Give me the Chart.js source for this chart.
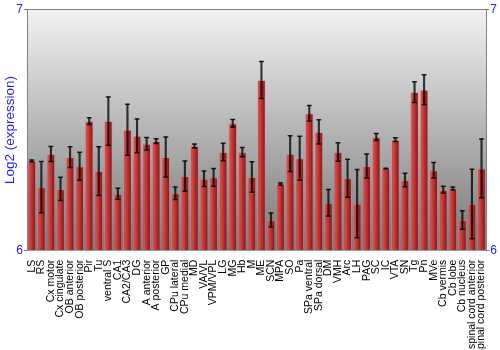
<!DOCTYPE html>
<html>
<head>
<meta charset="utf-8">
<script src="https://cdn.jsdelivr.net/npm/chart.js@4.4.1/dist/chart.umd.min.js"></script>
<style>
  body { margin: 0; background: #fff; }
  canvas { display: block; }
</style>
</head>
<body>
<canvas id="grafico" width="500" height="350"></canvas>
<script>
// regiones (eje x)
const regiones = ['LS', 'RS', 'Cx motor', 'Cx cingulate', 'OB anterior', 'OB posterior', 'Pir', 'Tu',
  'ventral S', 'CA1', 'CA2/CA3', 'DG', 'A anterior', 'A posterior', 'GP', 'CPu lateral', 'CPu medial',
  'MD', 'VA/VL', 'VPM/VPL', 'LG', 'MG', 'Hb', 'M', 'ME', 'SCN', 'MPA', 'SO', 'Pa', 'SPa ventral',
  'SPa dorsal', 'DM', 'VMH', 'Arc', 'LH', 'PAG', 'SC', 'IC', 'VTA', 'SN', 'Tg', 'Pn', 'MVe',
  'Cb vermis', 'Cb lobe', 'Cb nucleus', 'spinal cord anterior', 'spinal cord posterior'];

// log2 de la expresión media
const expresion = [6.372, 6.263, 6.401, 6.256, 6.388, 6.350, 6.537, 6.330, 6.537, 6.236, 6.501, 6.476,
  6.443, 6.454, 6.388, 6.238, 6.309, 6.434, 6.298, 6.304, 6.409, 6.528, 6.408, 6.305,
  6.707, 6.127, 6.276, 6.402, 6.383, 6.569, 6.492, 6.199, 6.409, 6.300, 6.195, 6.351,
  6.471, 6.340, 6.460, 6.293, 6.657, 6.667, 6.333, 6.253, 6.258, 6.127, 6.193, 6.341];

// error (+/-)
const errores = [0.004, 0.106, 0.031, 0.048, 0.043, 0.058, 0.014, 0.101, 0.100, 0.023, 0.106, 0.070,
  0.026, 0.010, 0.083, 0.026, 0.063, 0.008, 0.032, 0.037, 0.036, 0.016, 0.019, 0.063,
  0.077, 0.029, 0.004, 0.074, 0.091, 0.032, 0.050, 0.055, 0.038, 0.079, 0.141, 0.050,
  0.015, 0.002, 0.008, 0.028, 0.043, 0.062, 0.032, 0.014, 0.006, 0.038, 0.144, 0.122];

const ticksY = [6, 7];

const AZUL = '#1a1aff';
const GRIS = '#808080';
const ANCHO_BARRA = 0.91;

const errorBajo = expresion.map((v, i) => v - errores[i]);
const errorAlto = expresion.map((v, i) => v + errores[i]);

// gradiente horizontal para cada barra
function colorBarra(c) {
  const chart = c.chart;
  const xs = chart.scales.x;
  if (c.type !== 'data' || !xs || !xs.width) return '#b52c2c';
  const cx = xs.getPixelForValue(c.dataIndex);
  const mitad = xs.width / regiones.length * ANCHO_BARRA / 2;
  const g = chart.ctx.createLinearGradient(cx - mitad, 0, cx + mitad, 0);
  g.addColorStop(0, '#b23434');
  g.addColorStop(0.2, '#d24e4e');
  g.addColorStop(0.55, '#b82e2e');
  g.addColorStop(1, '#7a1212');
  return g;
}

// fondo gris degradado del área del gráfico
const fondo = {
  id: 'fondo',
  beforeDraw(chart) {
    const { ctx, chartArea: a } = chart;
    const g = ctx.createLinearGradient(0, a.top, 0, a.bottom);
    g.addColorStop(0, '#f2f2f2');
    g.addColorStop(1, '#777777');
    ctx.save();
    ctx.fillStyle = g;
    ctx.fillRect(a.left, a.top, a.right - a.left, a.bottom - a.top);
    ctx.restore();
  }
};

const fuente = { family: "'Liberation Sans', Arial, sans-serif" };

new Chart(document.getElementById('grafico').getContext('2d'), {
  type: 'bar',
  data: {
    labels: regiones,
    datasets: [
      {
        type: 'line',
        data: errorBajo,
        showLine: false,
        pointStyle: 'line',
        pointRadius: 2.5,
        pointBorderWidth: 1.5,
        pointBorderColor: 'rgba(0,0,0,0.8)',
        order: 1
      },
      {
        type: 'line',
        data: errorAlto,
        showLine: false,
        pointStyle: 'line',
        pointRadius: 2.5,
        pointBorderWidth: 1.5,
        pointBorderColor: 'rgba(0,0,0,0.8)',
        order: 1
      },
      {
        data: errorBajo.map((v, i) => [v, errorAlto[i]]),
        backgroundColor: 'rgba(0,0,0,0.75)',
        barThickness: 1.5,
        grouped: false,
        order: 2
      },
      {
        data: expresion,
        base: 6,
        backgroundColor: colorBarra,
        borderColor: 'rgba(230,130,130,0.45)',
        borderWidth: 1,
        categoryPercentage: 1,
        barPercentage: ANCHO_BARRA,
        grouped: false,
        order: 3
      }
    ]
  },
  options: {
    responsive: false,
    animation: false,
    layout: { padding: 0 },
    plugins: { legend: { display: false }, tooltip: { enabled: false } },
    scales: {
      x: {
        position: 'bottom',
        grid: { display: false },
        border: { display: false },
        ticks: {
          autoSkip: false,
          minRotation: 90,
          maxRotation: 90,
          padding: 1,
          color: '#000',
          font: { ...fuente, size: 10.5 }
        },
        afterFit: s => { s.height = 99.3; }
      },
      xTop: {
        type: 'category',
        position: 'top',
        labels: regiones,
        grid: { display: false },
        border: { display: true, color: GRIS, width: 1 },
        ticks: { display: false },
        afterFit: s => { s.height = 9.3; }
      },
      y: {
        position: 'left',
        min: 6,
        max: 7,
        afterBuildTicks: s => { s.ticks = ticksY.map(v => ({ value: v })); },
        grid: { drawOnChartArea: false, tickLength: 3, color: GRIS },
        border: { color: GRIS },
        ticks: { color: AZUL, padding: 1, font: { ...fuente, size: 12 } },
        title: {
          display: true,
          text: 'Log2 (expression)',
          color: AZUL,
          padding: { top: 2, bottom: 0 },
          font: { ...fuente, size: 13.5 }
        },
        afterFit: s => { s.width = 27; }
      },
      y2: {
        position: 'right',
        min: 6,
        max: 7,
        afterBuildTicks: s => { s.ticks = ticksY.map(v => ({ value: v })); },
        grid: { drawOnChartArea: false, tickLength: 3, color: GRIS },
        border: { color: GRIS },
        ticks: { color: AZUL, padding: 1, font: { ...fuente, size: 12 } },
        afterFit: s => { s.width = 13.7; }
      }
    }
  },
  plugins: [fondo]
});
</script>
</body>
</html>
